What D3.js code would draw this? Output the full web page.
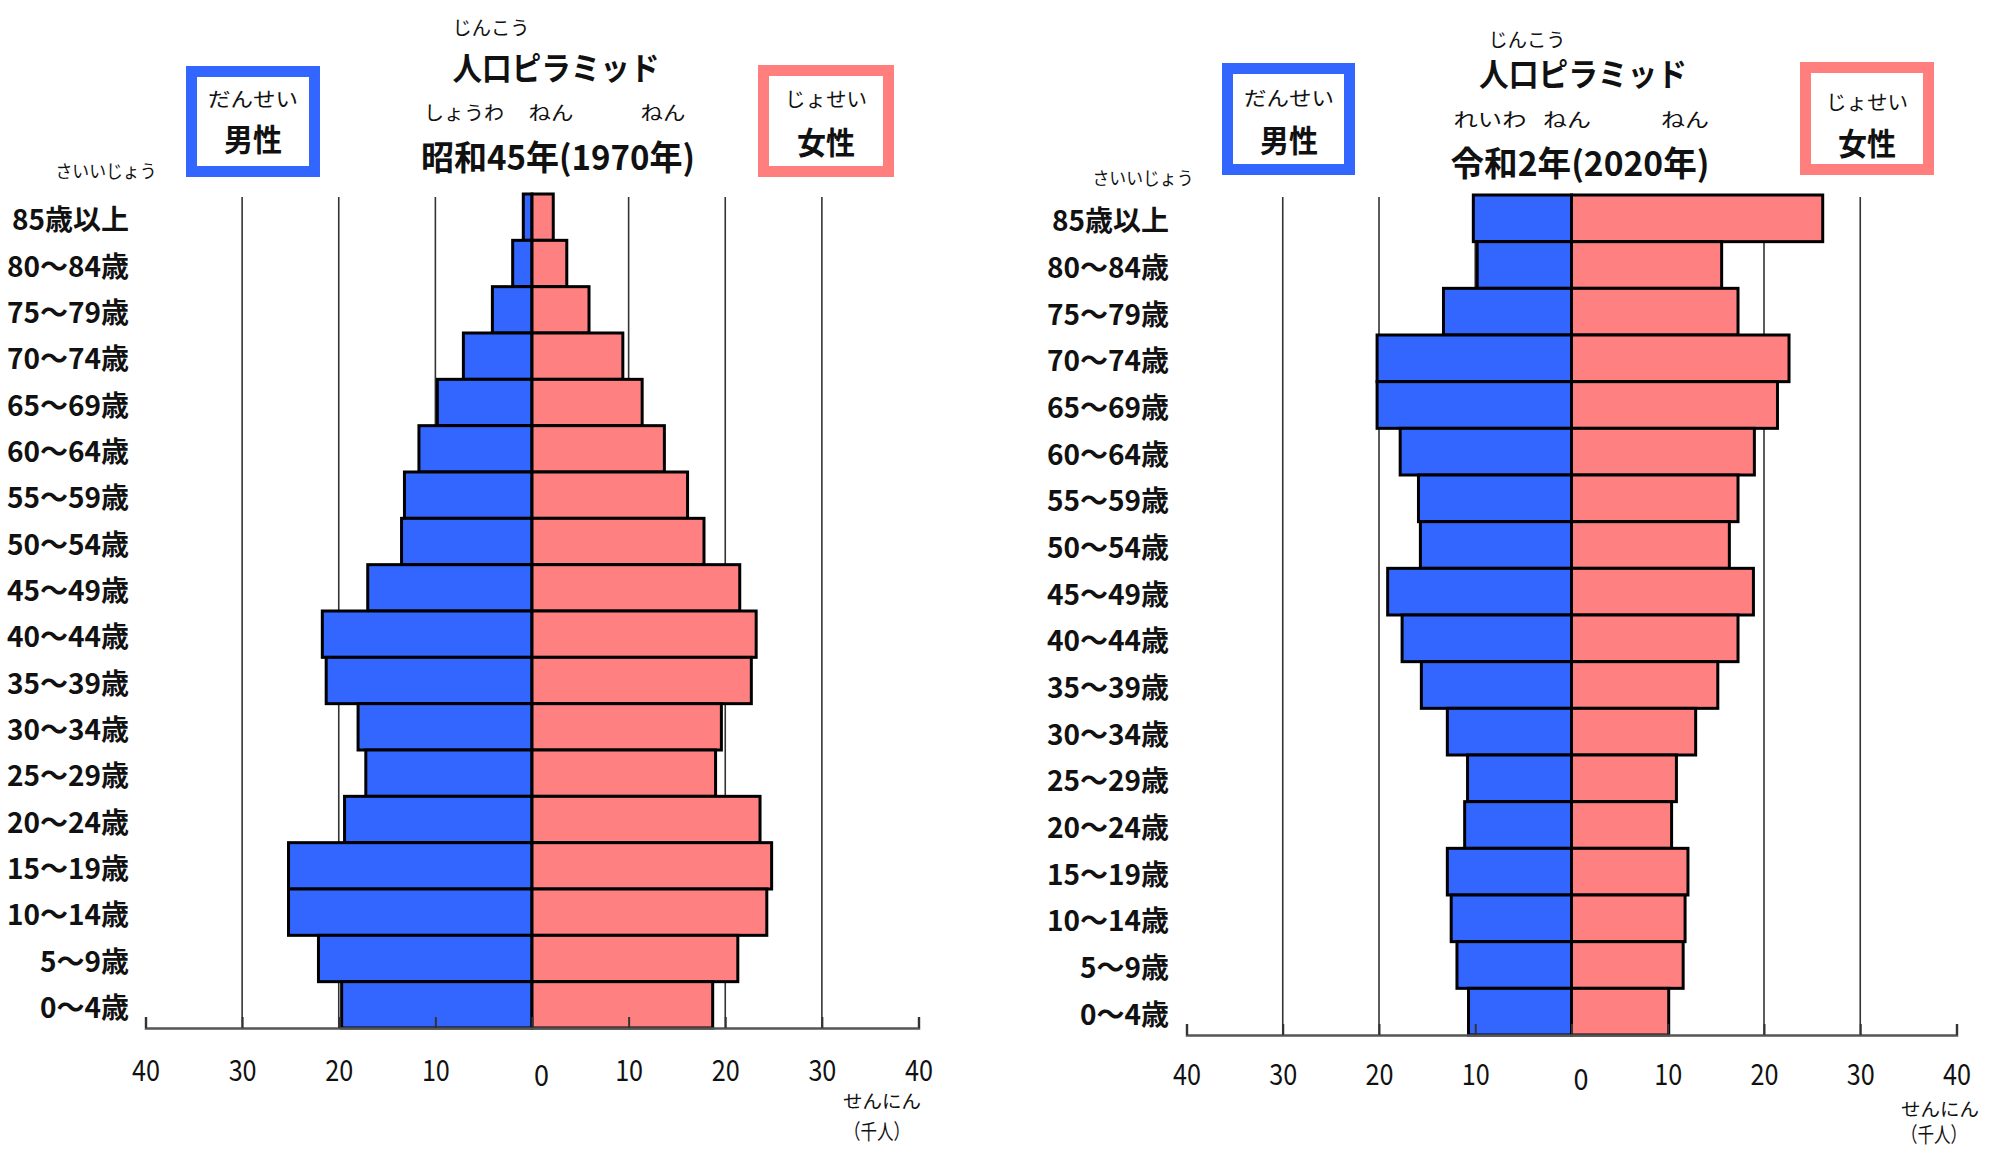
<!DOCTYPE html>
<html>
<head>
<meta charset="utf-8">
<script src="https://cdn.jsdelivr.net/npm/d3@7"></script>
<style>
  html, body { margin: 0; padding: 0; background: #fff; }
  svg { display: block; font-family: "Noto Sans CJK JP", "Noto Sans", sans-serif; }
</style>
</head>
<body>
<svg id="chart" width="2002" height="1150"></svg>
<script>
// Age groups, oldest at the top
const ageGroups = ["85歳以上", "80～84歳", "75～79歳", "70～74歳", "65～69歳", "60～64歳",
  "55～59歳", "50～54歳", "45～49歳", "40～44歳", "35～39歳", "30～34歳",
  "25～29歳", "20～24歳", "15～19歳", "10～14歳", "5～9歳", "0～4歳"];

// Population by age group, in thousands of people
const male1970   = [0.9, 2.0, 4.1, 7.1, 9.8, 11.7, 13.2, 13.5, 17.0, 21.7, 21.3, 18.0, 17.2, 19.4, 25.2, 25.2, 22.1, 19.7];
const female1970 = [2.2, 3.6, 5.9, 9.4, 11.4, 13.7, 16.1, 17.8, 21.5, 23.2, 22.7, 19.6, 19.0, 23.6, 24.8, 24.3, 21.3, 18.7];
const male2020   = [10.2, 9.8, 13.3, 20.2, 20.2, 17.8, 15.9, 15.7, 19.1, 17.6, 15.6, 12.9, 10.8, 11.1, 12.9, 12.5, 11.9, 10.7];
const female2020 = [26.1, 15.6, 17.3, 22.6, 21.4, 19.0, 17.3, 16.4, 18.9, 17.3, 15.2, 12.9, 10.9, 10.4, 12.1, 11.8, 11.6, 10.1];

// Axis ticks (male side negative) and vertical grid lines
const tickValues = [-40, -30, -20, -10, 0, 10, 20, 30, 40];
const gridValues = [-30, -20, -10, 10, 20, 30];

// Heading texts
const titleRuby = "じんこう";
const titleText = "人口ピラミッド";
const eraRuby1970 = ["しょうわ", "ねん", "ねん"];
const eraRuby2020 = ["れいわ", "ねん", "ねん"];
const yearText1970 = "昭和45年(1970年)";
const yearText2020 = "令和2年(2020年)";
const maleRuby = "だんせい", maleText = "男性";
const femaleRuby = "じょせい", femaleText = "女性";
const aboveRuby = "さいいじょう";
const unitRuby = "せんにん", unitText = "（千人）";

const MALE_FILL = "#3366ff";
const FEMALE_FILL = "#ff8080";

const svg = d3.select("#chart");

function txt(g, s, x, y, size, opts = {}) {
  const t = g.append("text")
    .attr("x", x).attr("y", y)
    .attr("font-size", size)
    .attr("text-anchor", opts.anchor || "middle")
    .attr("dominant-baseline", "central")
    .attr("font-weight", opts.weight || "normal")
    .attr("fill", opts.fill || "#111")
    .text(s);
  if (opts.width) t.attr("textLength", opts.width).attr("lengthAdjust", "spacingAndGlyphs");
  return t;
}

function drawPyramid(cfg) {
  const g = svg.append("g");

  const x = d3.scaleLinear().domain([-40, 40]).range(cfg.xRange);
  const y = d3.scaleBand().domain(ageGroups).range([cfg.top, cfg.axisY]).padding(0);

  // grid lines behind the bars
  g.append("g").selectAll("line").data(gridValues).join("line")
    .attr("x1", d => x(d)).attr("x2", d => x(d))
    .attr("y1", cfg.gridTop).attr("y2", cfg.axisY)
    .attr("stroke", "#333").attr("stroke-width", 1.6);

  // male bars (left)
  g.append("g").selectAll("rect").data(ageGroups).join("rect")
    .attr("x", (d, i) => x(-cfg.male[i]))
    .attr("y", d => y(d))
    .attr("width", (d, i) => x(0) - x(-cfg.male[i]))
    .attr("height", y.bandwidth())
    .attr("fill", MALE_FILL)
    .attr("stroke", "#000").attr("stroke-width", 3);

  // female bars (right)
  g.append("g").selectAll("rect").data(ageGroups).join("rect")
    .attr("x", x(0))
    .attr("y", d => y(d))
    .attr("width", (d, i) => x(cfg.female[i]) - x(0))
    .attr("height", y.bandwidth())
    .attr("fill", FEMALE_FILL)
    .attr("stroke", "#000").attr("stroke-width", 3);

  // bottom axis with upward ticks
  const axisG = g.append("g")
    .attr("transform", `translate(0,${cfg.axisY})`)
    .call(d3.axisBottom(x).tickValues(tickValues).tickSize(-11).tickFormat(d => Math.abs(d)));
  axisG.select(".domain").attr("stroke", "#555").attr("stroke-width", 2.5);
  axisG.selectAll(".tick line").attr("stroke", "#333").attr("stroke-width", 2);
  axisG.selectAll(".tick text")
    .attr("y", d => d === 0 ? cfg.tickLabelDy + 5 : cfg.tickLabelDy)
    .attr("x", d => d === 0 ? 9 : 0)
    .attr("dy", null)
    .attr("dominant-baseline", "central")
    .attr("font-size", 29)
    .attr("font-family", "'Noto Sans CJK JP', sans-serif")
    .attr("fill", "#111")
    .attr("textLength", d => d === 0 ? 15 : 28)
    .attr("lengthAdjust", "spacingAndGlyphs");

  // age labels
  g.append("g").selectAll("text").data(ageGroups).join("text")
    .attr("x", cfg.labelRight)
    .attr("y", d => y(d) + y.bandwidth() / 2 + 1)
    .attr("text-anchor", "end")
    .attr("dominant-baseline", "central")
    .attr("font-size", 28)
    .attr("font-weight", "bold")
    .attr("fill", "#111")
    .text(d => d);
  txt(g, aboveRuby, cfg.above.x, cfg.above.y, 18, { width: 101 });

  // title block
  txt(g, titleRuby, cfg.ruby.x, cfg.ruby.y, 19, { width: 77 });
  txt(g, titleText, cfg.title.x, cfg.title.y, 32, { weight: "bold", width: cfg.title.w });
  cfg.era.forEach((s, i) => {
    txt(g, s, cfg.eraPos[i][0], cfg.eraY, 19, { width: cfg.eraPos[i][1] });
  });
  txt(g, cfg.year.text, cfg.year.x, cfg.year.y, 34, { weight: "bold", width: cfg.year.w });

  // legend boxes
  function box(b, color, ruby, label, t) {
    const sw = 11;
    g.append("rect")
      .attr("x", b[0] + sw / 2).attr("y", b[1] + sw / 2)
      .attr("width", b[2] - b[0] - sw).attr("height", b[3] - b[1] - sw)
      .attr("fill", "#fff").attr("stroke", color).attr("stroke-width", sw);
    txt(g, ruby, t.x, t.y1, 20, { width: t.w1 });
    txt(g, label, t.x, t.y2, 31, { weight: "bold", width: 58 });
  }
  box(cfg.maleBox, MALE_FILL, maleRuby, maleText, cfg.maleText);
  box(cfg.femaleBox, "#ff7f7f", femaleRuby, femaleText, cfg.femaleText);

  // unit note
  txt(g, unitRuby, cfg.unit.x1, cfg.unit.y1, 18, { width: 78 });
  txt(g, unitText, cfg.unit.x2, cfg.unit.y2, 21, { width: 66 });
}

drawPyramid({
  male: male1970, female: female1970,
  xRange: [145.5, 918.5], top: 194, axisY: 1028, gridTop: 197, tickLabelDy: 40,
  labelRight: 129,
  above: { x: 106, y: 170 },
  ruby: { x: 491, y: 26 },
  title: { x: 556, y: 66, w: 207 },
  era: eraRuby1970, eraPos: [[464, 80], [551, 45], [663, 45]], eraY: 111,
  year: { text: yearText1970, x: 558, y: 155, w: 274 },
  maleBox: [186, 66, 320, 177], femaleBox: [758, 65, 894, 177],
  maleText: { x: 253, y1: 98, y2: 137, w1: 90 },
  femaleText: { x: 826, y1: 98, y2: 140, w1: 82 },
  unit: { x1: 882, y1: 1100, x2: 877, y2: 1130 }
});

drawPyramid({
  male: male2020, female: female2020,
  xRange: [1186.5, 1956.5], top: 195, axisY: 1035, gridTop: 197, tickLabelDy: 37,
  labelRight: 1169,
  above: { x: 1143, y: 177 },
  ruby: { x: 1527, y: 38 },
  title: { x: 1583, y: 72, w: 208 },
  era: eraRuby2020, eraPos: [[1490, 73], [1567, 48], [1685, 48]], eraY: 118,
  year: { text: yearText2020, x: 1580, y: 161, w: 259 },
  maleBox: [1222, 63, 1355, 175], femaleBox: [1800, 62, 1934, 175],
  maleText: { x: 1289, y1: 97, y2: 138, w1: 90 },
  femaleText: { x: 1867, y1: 101, y2: 141, w1: 82 },
  unit: { x1: 1940, y1: 1108, x2: 1934, y2: 1133 }
});
</script>
</body>
</html>
